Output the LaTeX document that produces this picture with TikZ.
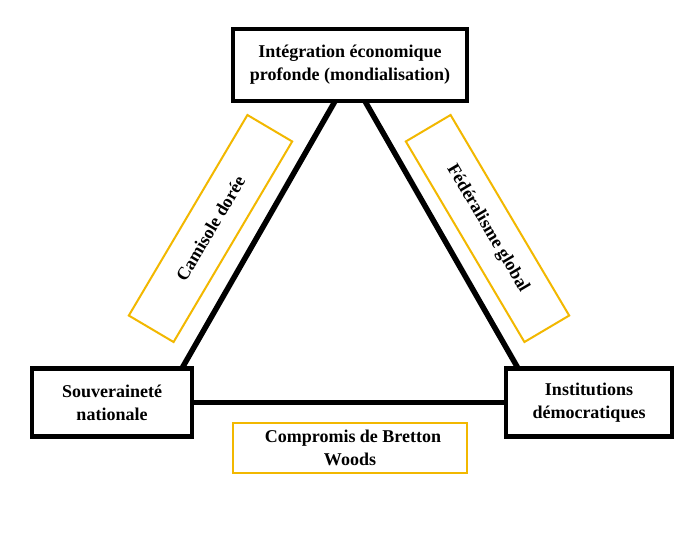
\documentclass[tikz,border=0pt]{standalone}
\usepackage{fontspec}
\setmainfont{Liberation Serif}
\begin{document}
\begin{tikzpicture}[x=1pt,y=-1pt,
  mainbox/.style={draw=black,line width=4.5pt,fill=white,align=center,inner sep=0pt,font=\fontsize{18}{23}\selectfont\bfseries},
  goldbox/.style={draw=gold,line width=2pt,align=center,inner sep=0pt,font=\fontsize{18}{23}\selectfont\bfseries},
  edge/.style={line width=5.5pt,black}]
\definecolor{gold}{HTML}{F2B800}
\useasboundingbox[fill=white] (0,0) rectangle (700,533);
\node[mainbox,minimum width=234pt,minimum height=72pt] (top) at (350,65) {Intégration économique\\profonde (mondialisation)};
\node[mainbox,minimum width=160pt,minimum height=68pt] (left) at (112,402.5) {Souveraineté\\nationale};
\node[mainbox,minimum width=166pt,minimum height=68pt] (right) at (589,402.5) {Institutions\\démocratiques};
\draw[edge] ([xshift=-15pt,yshift=2pt]top.south) -- ([xshift=70pt,yshift=-2pt]left.north);
\draw[edge] ([xshift=15pt,yshift=2pt]top.south) -- ([xshift=-71pt,yshift=-2pt]right.north);
\draw[edge] ([xshift=-2pt]left.east) -- ([xshift=2pt]right.west);
\node[goldbox,rotate=59.4,minimum width=233pt,minimum height=52pt] (cam) at (210.5,228.5) {Camisole dorée};
\node[goldbox,rotate=-59.4,minimum width=233pt,minimum height=52pt] (fed) at (487.5,228.5) {Fédéralisme global};
\node[goldbox,minimum width=234pt,minimum height=50pt] (bw) at (350,448) {\hspace*{6pt}Compromis de Bretton\\Woods};
\end{tikzpicture}
\end{document}
